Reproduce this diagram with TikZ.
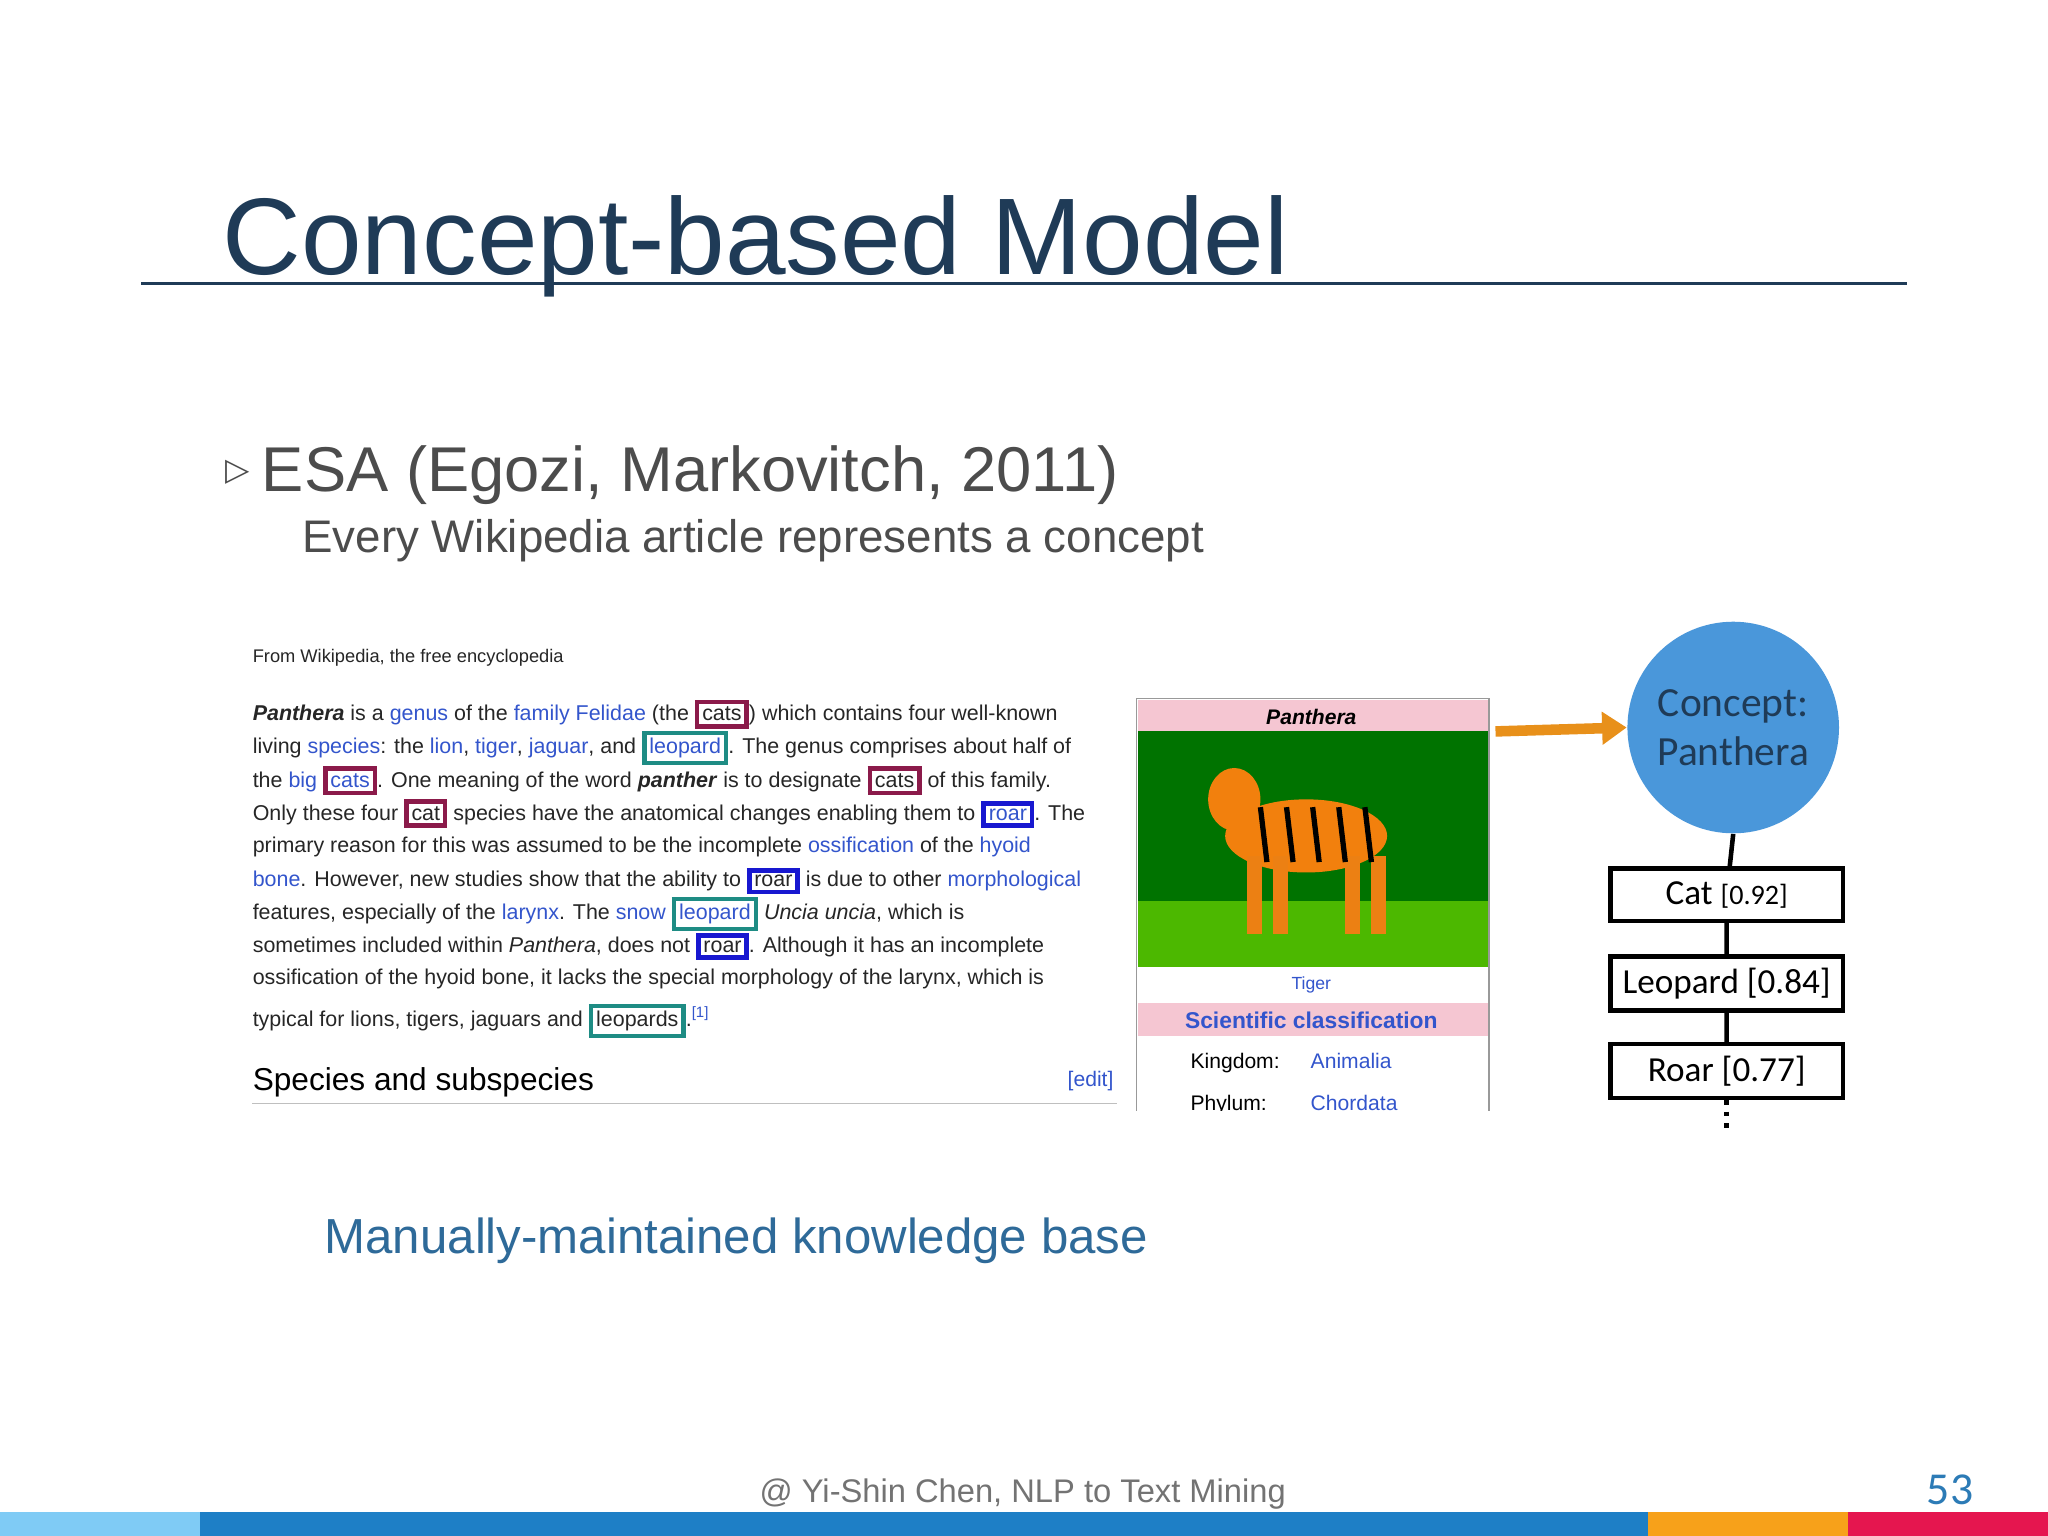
\documentclass[tikz,border=0pt]{standalone}
\usepackage{fontspec}
\setmainfont{Liberation Sans}
\newfontfamily\carl{Carlito}
\newfontfamily\djs{DejaVu Sans}
\usetikzlibrary{arrows.meta}
\definecolor{navy}{HTML}{1F3B57}
\definecolor{wm}{HTML}{8B1A4A}
\definecolor{wt}{HTML}{1E8C84}
\definecolor{wb}{HTML}{1818D0}
\definecolor{lk}{HTML}{3355CC}
\definecolor{pinkh}{HTML}{F5C6D2}
\definecolor{circ}{HTML}{4A97DA}
\definecolor{mk}{HTML}{2E6A99}
\definecolor{pgc}{HTML}{2C7BB6}
\definecolor{b1}{HTML}{7FCBF5}
\definecolor{b2}{HTML}{1E7FC6}
\definecolor{b3}{HTML}{F7A11A}
\definecolor{b4}{HTML}{E5164F}
\definecolor{arr}{HTML}{E8901A}
\newcommand\lk[1]{\textcolor{lk}{#1}}
\newcommand\wbx[2]{{\setlength\fboxsep{0.8pt}\setlength\fboxrule{1.3pt}\fcolorbox{#1}{white}{#2}}}
\tikzset{wl/.style={anchor=base west,inner sep=0,font=\fontsize{6.1}{7}\selectfont,text=black!85},
 cbox/.style={draw,line width=1.3pt,minimum width=178*0.01306cm,minimum height=40*0.01306cm,font=\carl\fontsize{10}{12}\selectfont}}
\begin{document}
\begin{tikzpicture}[x=0.01306cm,y=-0.01306cm]
\useasboundingbox (0,0) rectangle (1568,1176);
\fill[white] (0,0) rectangle (1568,1176);
\node[anchor=base west,inner sep=0,text=navy,font=\fontsize{31}{34}\selectfont] (title) at (170,210) {Concept-based Model};
\draw[navy,line width=0.9pt] (108,217) -- (1460,217);
\node[anchor=base west,inner sep=0,text=black!70,font=\djs\fontsize{9}{10}\selectfont] (bul) at (172,368) {▷};
\node[anchor=base west,inner sep=0,text=black!70,font=\fontsize{18}{20}\selectfont] (esa) at (200,376) {ESA (Egozi, Markovitch, 2011)};
\node[anchor=base west,inner sep=0,text=black!70,font=\fontsize{13}{15}\selectfont] (every) at (231,423) {Every Wikipedia article represents a concept};
% wiki text
\node[wl,font=\fontsize{5.2}{6}\selectfont] (from) at (193,507) {From Wikipedia, the free encyclopedia};
\node[wl] (l1) at (193,552) {\textbf{\textit{Panthera}} is a \lk{genus} of the \lk{family Felidae} (the \wbx{wm}{cats}) which contains four well-known};
\node[wl] (l2) at (193,577) {living \lk{species}: the \lk{lion}, \lk{tiger}, \lk{jaguar}, and \wbx{wt}{\lk{leopard}}. The genus comprises about half of};
\node[wl] (l3) at (193,603) {the \lk{big} \wbx{wm}{\lk{cats}}. One meaning of the word \textbf{\textit{panther}} is to designate \wbx{wm}{cats} of this family.};
\node[wl] (l4) at (193,628) {Only these four \wbx{wm}{cat} species have the anatomical changes enabling them to \wbx{wb}{\lk{roar}}. The};
\node[wl] (l5) at (193,653) {primary reason for this was assumed to be the incomplete \lk{ossification} of the \lk{hyoid}};
\node[wl] (l6) at (193,679) {\lk{bone}. However, new studies show that the ability to \wbx{wb}{roar} is due to other \lk{morphological}};
\node[wl] (l7) at (193,704) {features, especially of the \lk{larynx}. The \lk{snow} \wbx{wt}{\lk{leopard}} \textit{Uncia uncia}, which is};
\node[wl] (l8) at (193,729) {sometimes included within \textit{Panthera}, does not \wbx{wb}{roar}. Although it has an incomplete};
\node[wl] (l9) at (193,754) {ossification of the hyoid bone, it lacks the special morphology of the larynx, which is};
\node[wl] (l10) at (193,786) {typical for lions, tigers, jaguars and \wbx{wt}{leopards}.\textsuperscript{\lk{[1]}}};
\node[anchor=base west,inner sep=0,font=\fontsize{9}{10}\selectfont] (spec) at (193,835) {Species and subspecies};
\node[anchor=base east,inner sep=0,font=\fontsize{6}{7}\selectfont,text=lk] (edit) at (853,832) {[edit]};
\draw[black!25] (193,845) -- (855,845);
% infobox
\begin{scope}
\clip (865,530) rectangle (1145,850);
\draw[black!40] (870,535) rectangle (1140,870);
\fill[pinkh] (871,536) rectangle (1139,560);
\node[inner sep=0,font=\fontsize{6}{7}\selectfont\bfseries\itshape] (pan) at (1004,549) {Panthera};
\fill[green!45!black] (871,560) rectangle (1139,740);
\fill[green!60!black!70!yellow] (871,690) rectangle (1139,740);
\fill[orange!80!brown] (1000,640) ellipse (62 and 28);
\fill[orange!80!brown] (945,612) ellipse (20 and 24);
\foreach \lx in {955,975,1030,1050}{\fill[orange!70!brown] (\lx,655) rectangle (\lx+11,715);}
\foreach \sx in {965,985,...,1045}{\draw[black,line width=1.5pt] (\sx,618) -- (\sx+5,660);}
\node[inner sep=0,font=\fontsize{5}{6}\selectfont,text=lk] (tig) at (1004,754) {Tiger};
\fill[pinkh] (871,768) rectangle (1139,793);
\node[inner sep=0,font=\fontsize{6.5}{7}\selectfont\bfseries,text=lk] (sci) at (1004,781) {Scientific classification};
\node[anchor=base west,inner sep=0,font=\fontsize{6}{7}\selectfont] (king) at (911,818) {Kingdom:};
\node[anchor=base west,inner sep=0,font=\fontsize{6}{7}\selectfont,text=lk] (anim) at (1003,818) {Animalia};
\node[anchor=base west,inner sep=0,font=\fontsize{6}{7}\selectfont] (phy) at (911,850) {Phylum:};
\node[anchor=base west,inner sep=0,font=\fontsize{6}{7}\selectfont,text=lk] (chor) at (1003,850) {Chordata};
\end{scope}
% concept
\node[circle,fill=circ,minimum size=162*0.01306cm,inner sep=0,align=center,text=navy,font=\carl\fontsize{11.8}{14}\selectfont] (con) at (1327,557) {Concept:\\Panthera};
\coordinate (as) at (1145,560);
\draw[-{Triangle[length=7pt,width=9pt]},line width=3pt,arr] (as) -- (con.west);
\node[cbox] (cat) at (1322,685) {Cat {\fontsize{8}{9}\selectfont[0.92]}};
\node[cbox] (leo) at (1322,753) {Leopard [0.84]};
\node[cbox] (roar) at (1322,820) {Roar [0.77]};
\coordinate (dend) at (1322,866);
\draw[line width=1.3pt] (con.south) -- (cat) (cat) -- (leo) (leo) -- (roar);
\draw[line width=1.3pt,dotted] (roar) -- (dend);
\node[anchor=base west,inner sep=0,text=mk,font=\fontsize{14}{16}\selectfont] (man) at (248,960) {Manually-maintained knowledge base};
\node[anchor=base,inner sep=0,text=black!55,font=\fontsize{9.3}{10}\selectfont] (foot) at (783,1150) {@ Yi-Shin Chen, NLP to Text Mining};
\node[anchor=base,inner sep=0,text=pgc,font=\carl\fontsize{13}{14}\selectfont] (pg) at (1493,1152) {53};
\fill[b1] (0,1158) rectangle (153,1176);
\fill[b2] (153,1158) rectangle (1262,1176);
\fill[b3] (1262,1158) rectangle (1415,1176);
\fill[b4] (1415,1158) rectangle (1568,1176);
\end{tikzpicture}
\end{document}
